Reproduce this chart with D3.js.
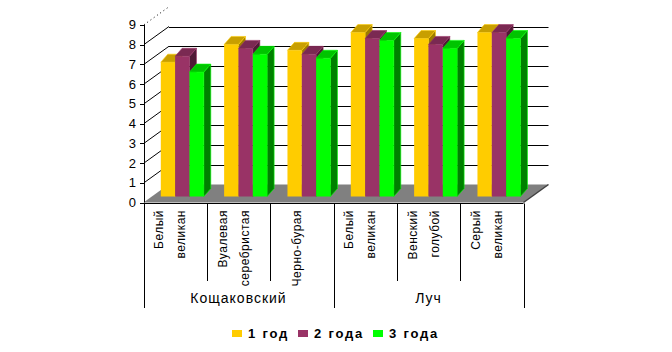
<!DOCTYPE html>
<html>
<head>
<meta charset="utf-8">
<script src="https://cdn.jsdelivr.net/npm/d3@7"></script>
<style>
  body { margin: 0; background: #fff; }
  svg { display: block; }
  text { font-family: "Liberation Sans", Arial, sans-serif; fill: #000; }
</style>
</head>
<body>
<div id="chart"></div>
<script>
// data
var categories = [["Белый", "великан"], ["Вуалевая", "серебристая"], ["Черно-бурая"],
                  ["Белый", "великан"], ["Венский", "голубой"], ["Серый", "великан"]];
var groupNames = ["Кощаковский", "Луч"];
var groupSizes = [3, 3];
var seriesNames = ["1 год", "2 года", "3 года"];
var year1 = [6.8, 7.7, 7.4, 8.3, 8.0, 8.3];
var year2 = [7.1, 7.5, 7.2, 8.0, 7.7, 8.3];
var year3 = [6.3, 7.2, 7.0, 7.9, 7.5, 8.0];
var yTicks = [0, 1, 2, 3, 4, 5, 6, 7, 8, 9];

var colors = [
    {front: "#ffcc00", top: "#c89f00", side: "#9c7c00", edge: "#ffcc00"},
    {front: "#993366", top: "#7a2952", side: "#4f1a36", edge: "#993366"},
    {front: "#00ff00", top: "#00c400", side: "#008000", edge: "#00ff00"}
];

var width = 672, height = 352;
// floor depth offset (3d look)
var depthX = 25, depthY = -18;
// bar depth and where bars sit in the floor
var barDX = 7, barDY = -8;
var barShiftY = -6;

var svg = d3.select("#chart").append("svg")
    .attr("width", width)
    .attr("height", height);

var y = d3.scaleLinear().domain([0, 9]).range([202.5, 24.75]);
var x = d3.scaleBand().domain(d3.range(categories.length)).range([143.5, 523.5]);
var xs = d3.scaleBand().domain(d3.range(seriesNames.length)).range([0, 43]);

// floor
var fx0 = x.range()[0], fx1 = x.range()[1], fy = y(0);
svg.append("polygon")
    .attr("points", [[fx0, fy], [fx1, fy], [fx1 + depthX, fy + depthY], [fx0 + depthX, fy + depthY]].join(" "))
    .style("fill", "#808080");
svg.append("line")
    .attr("x1", fx1).attr("y1", fy)
    .attr("x2", fx1 + depthX).attr("y2", fy + depthY)
    .style("stroke", "#404040").style("stroke-width", 1.5);

// gridlines on the left wall and back wall
yTicks.forEach(function(v){
    if(v == 0) return;
    var line = svg.append("line")
        .attr("x1", 144).attr("y1", y(v))
        .attr("x2", 144 + depthX).attr("y2", y(v) + depthY)
        .style("stroke", "#000").style("stroke-width", 1);
    if(v == 9){
        line.style("stroke-dasharray", "1,3");
        return;
    }
    svg.append("line")
        .attr("x1", 144 + depthX).attr("y1", Math.round(y(v) + depthY) + 0.5)
        .attr("x2", fx1 + depthX).attr("y2", Math.round(y(v) + depthY) + 0.5)
        .style("stroke", "#000").style("stroke-width", 1);
});

// bars
var series = [year1, year2, year3];
var bars = svg.append("g").attr("class", "bars");
categories.forEach(function(c, i){
    series.forEach(function(vals, j){
        var col = colors[j];
        var x0 = x(i) + 17.3 + xs(j);
        var x1 = x0 + xs.bandwidth();
        var yb = y(0) + barShiftY;
        var yt = y(vals[i]) + barShiftY;
        var g = bars.append("g");
        g.append("polygon")
            .attr("points", [[x1, yb], [x1 + barDX, yb + barDY], [x1 + barDX, yt + barDY], [x1, yt]].join(" "))
            .style("fill", col.side).style("stroke", col.edge).style("stroke-width", 0.6);
        g.append("rect")
            .attr("x", x0).attr("y", yt)
            .attr("width", x1 - x0).attr("height", yb - yt)
            .style("fill", col.front);
        g.append("polygon")
            .attr("points", [[x0, yt], [x1, yt], [x1 + barDX, yt + barDY], [x0 + barDX, yt + barDY]].join(" "))
            .style("fill", col.top).style("stroke", col.edge).style("stroke-width", 0.6);
    });
});

// y axis
svg.append("line")
    .attr("x1", 144.5).attr("y1", y(0))
    .attr("x2", 144.5).attr("y2", y(9))
    .style("stroke", "#000");
yTicks.forEach(function(v){
    svg.append("line")
        .attr("x1", 140).attr("x2", 144.5)
        .attr("y1", Math.round(y(v)) + 0.5).attr("y2", Math.round(y(v)) + 0.5)
        .style("stroke", "#000");
    svg.append("text")
        .attr("x", 136).attr("y", y(v))
        .attr("dy", "0.36em")
        .attr("text-anchor", "end")
        .style("font-size", "13px")
        .text(v);
});

// x axis
svg.append("line")
    .attr("x1", fx0).attr("x2", fx1)
    .attr("y1", 203.5).attr("y2", 203.5)
    .style("stroke", "#000");

var bounds = [0];
groupSizes.forEach(function(n){ bounds.push(bounds[bounds.length - 1] + n); });
d3.range(categories.length + 1).forEach(function(k){
    var xx = k < categories.length ? x(k) : fx1;
    var outer = bounds.indexOf(k) >= 0;
    svg.append("line")
        .attr("x1", Math.round(xx) + 0.5).attr("x2", Math.round(xx) + 0.5)
        .attr("y1", 203.5).attr("y2", outer ? 308 : 281)
        .style("stroke", "#000");
});

// category labels (rotated)
categories.forEach(function(c, i){
    var cx = x(i) + x.bandwidth() / 2 - 5;
    c.forEach(function(line, k){
        var lx = cx + (k - (c.length - 1) / 2) * 22;
        svg.append("text")
            .attr("transform", "translate(" + lx + ",210) rotate(-90)")
            .attr("text-anchor", "end")
            .attr("dy", "0.35em")
            .style("font-size", "12px")
            .style("letter-spacing", "0.5px")
            .text(line);
    });
});

// group labels
groupNames.forEach(function(name, g){
    var a = x(bounds[g]);
    var b = bounds[g + 1] < categories.length ? x(bounds[g + 1]) : fx1;
    svg.append("text")
        .attr("x", (a + b) / 2).attr("y", 303)
        .attr("text-anchor", "middle")
        .style("font-size", "14px")
        .style("letter-spacing", "1px")
        .text(name);
});

// legend
var legendX = [232, 298, 373];
seriesNames.forEach(function(name, j){
    svg.append("rect")
        .attr("x", legendX[j]).attr("y", 330)
        .attr("width", 10).attr("height", 7)
        .style("fill", colors[j].front);
    svg.append("text")
        .attr("x", legendX[j] + 16).attr("y", 338)
        .style("font-size", "13px")
        .style("font-weight", "bold")
        .style("letter-spacing", "1.8px")
        .text(name);
});
</script>
</body>
</html>
